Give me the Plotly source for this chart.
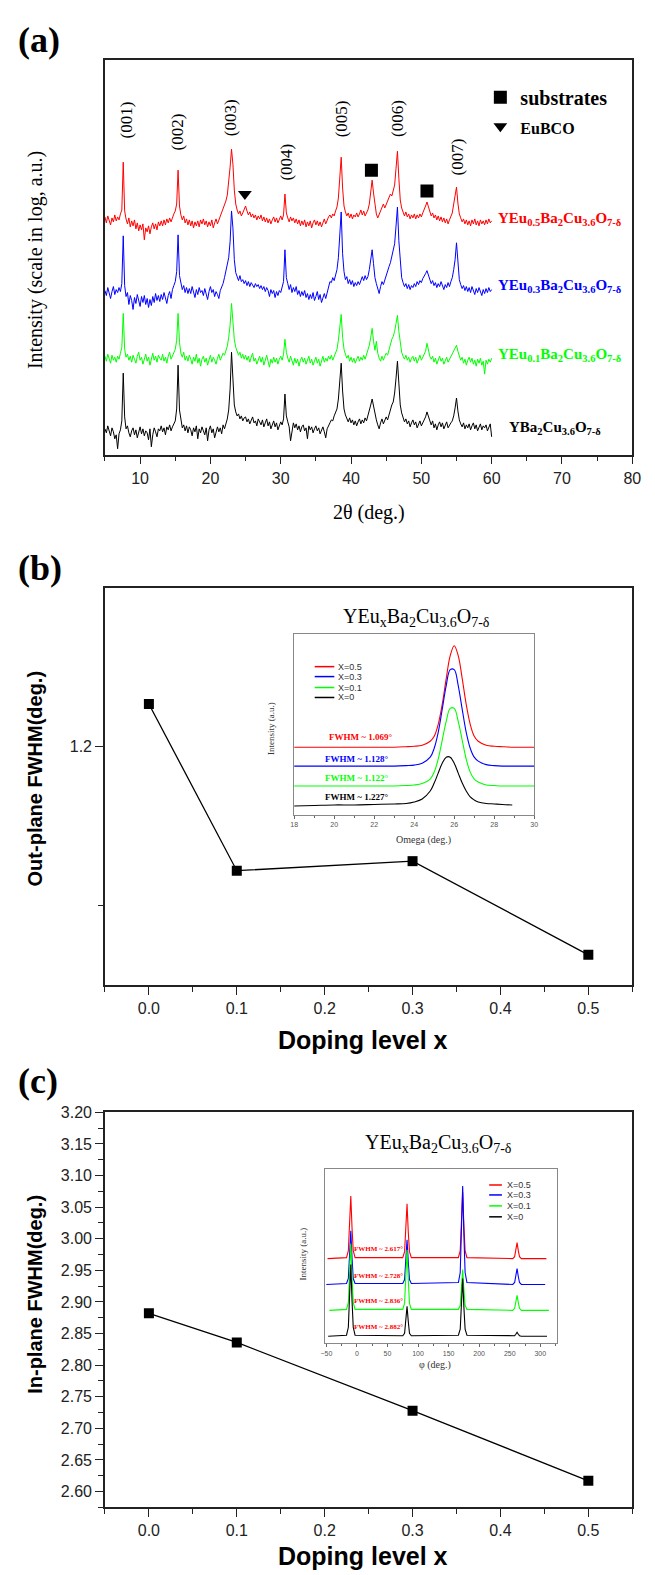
import numpy as np
import plotly.graph_objects as go

W, H = 655, 1575

# ---------------- Panel (a): XRD theta-2theta scans ----------------
TWO_THETA = np.round(np.arange(5.0, 60.0001, 0.2), 1)

XRD_X0 = [
2.6, 2.2, 2.9, 2.4, 1.9, 2.7, 2.3, 1.6, 2.0, 0.6,
2.1, 2.5, 3.4, 8.2, 3.8, 2.6, 2.9, 2.2, 1.8, 2.4,
2.7, 2.0, 2.5, 1.7, 2.3, 2.8, 2.1, 2.6, 1.9, 2.4,
2.2, 1.5, 2.6, 0.8, 2.0, 2.7, 2.3, 1.8, 2.6, 2.4,
2.9, 2.3, 2.7, 2.0, 2.8, 2.5, 3.0, 2.4, 2.8, 3.1,
3.4, 4.6, 9.0, 4.5, 3.3, 2.7, 3.0, 2.4, 2.9, 2.2,
2.8, 2.5, 1.9, 2.7, 2.3, 2.9, 1.6, 2.6, 2.2, 2.8,
2.4, 2.0, 2.7, 1.4, 2.5, 2.9, 2.2, 2.6, 1.7, 2.4,
2.8, 2.3, 2.7, 2.1, 3.0, 2.6, 3.1, 3.6, 4.5, 6.6,
10.3, 7.4, 5.0, 4.3, 3.9, 4.1, 3.6, 3.9, 3.4, 3.7,
3.8, 3.3, 3.6, 3.1, 3.5, 3.8, 3.2, 3.4, 2.9, 3.6,
3.3, 3.0, 3.5, 2.8, 3.2, 3.6, 2.9, 3.3, 2.6, 3.1,
3.4, 2.8, 3.2, 2.5, 3.0, 3.3, 3.0, 3.6, 6.1, 3.9,
3.3, 2.8, 1.4, 2.6, 3.2, 2.7, 3.1, 2.5, 2.9, 2.3,
2.8, 3.0, 2.4, 2.7, 1.6, 2.9, 2.5, 2.8, 2.2, 2.6,
2.9, 2.4, 2.7, 2.1, 2.5, 2.8, 2.3, 1.7, 2.6, 3.0,
3.2, 3.5, 3.4, 3.9, 4.2, 4.6, 5.6, 7.6, 9.2, 6.4,
4.6, 4.0, 3.6, 3.3, 3.7, 3.2, 3.5, 3.0, 3.4, 2.9,
3.3, 3.6, 3.1, 3.5, 3.2, 3.7, 3.4, 3.9, 4.3, 5.0,
5.6, 4.9, 4.0, 3.5, 3.0, 2.6, 3.2, 3.6, 3.1, 3.5,
3.8, 3.5, 4.1, 4.6, 5.0, 5.3, 6.2, 7.7, 9.4, 7.2,
5.0, 4.2, 3.7, 3.3, 3.6, 3.1, 3.4, 2.8, 3.2, 3.5,
3.0, 3.3, 2.7, 3.1, 3.4, 2.9, 3.2, 3.4, 3.8, 4.3,
3.8, 3.3, 3.0, 3.4, 2.7, 3.1, 2.5, 3.0, 3.3, 2.8,
3.2, 2.6, 2.9, 3.3, 2.7, 3.0, 3.2, 3.4, 3.9, 4.7,
5.7, 4.4, 3.5, 3.1, 2.8, 3.2, 2.6, 3.0, 2.7, 3.1,
2.5, 2.9, 3.2, 2.6, 3.0, 2.4, 2.8, 3.1, 2.5, 2.9,
2.7, 3.0, 2.4, 2.8, 3.1, 1.8]

XRD_X01 = [
9.9, 9.4, 10.1, 9.6, 9.2, 10.0, 9.5, 9.8, 9.3, 9.9,
9.6, 10.2, 10.8, 14.2, 10.6, 9.8, 10.1, 9.5, 9.9, 9.3,
10.0, 9.6, 9.2, 9.9, 10.3, 9.5, 9.8, 9.1, 9.7, 10.1,
9.4, 9.8, 9.0, 9.6, 10.2, 9.5, 9.9, 9.3, 10.0, 9.7,
9.5, 10.1, 9.4, 9.8, 9.2, 9.9, 10.3, 9.6, 10.0, 10.4,
10.6, 11.5, 14.2, 11.3, 10.2, 9.8, 10.3, 9.5, 9.9, 9.4,
10.0, 9.6, 9.1, 9.8, 9.4, 10.1, 9.2, 9.7, 8.9, 9.6,
9.9, 9.3, 9.7, 9.0, 9.6, 10.0, 9.3, 9.8, 9.5, 9.1,
9.7, 10.1, 9.5, 9.9, 10.2, 10.0, 10.5, 10.9, 11.8, 13.0,
15.2, 13.4, 11.6, 10.8, 10.4, 10.0, 10.3, 9.7, 10.1, 9.6,
10.0, 9.5, 9.9, 9.3, 9.8, 10.2, 9.4, 9.7, 9.1, 9.6,
9.9, 9.3, 9.8, 9.0, 9.5, 10.0, 9.4, 8.8, 9.6, 9.2,
9.8, 9.3, 9.7, 9.1, 9.6, 9.9, 9.5, 10.1, 11.6, 10.3,
9.7, 9.3, 9.9, 9.4, 9.0, 9.7, 9.2, 9.6, 8.9, 9.5,
9.8, 9.3, 9.7, 9.1, 9.5, 9.9, 9.2, 9.6, 9.0, 9.4,
9.8, 9.2, 9.6, 8.9, 9.5, 9.9, 9.3, 9.7, 9.4, 9.9,
9.6, 10.0, 9.5, 9.9, 10.1, 10.6, 11.5, 12.8, 14.1, 11.8,
10.6, 10.1, 9.7, 10.0, 9.4, 9.8, 9.3, 9.7, 9.2, 9.6,
9.9, 9.4, 9.8, 9.5, 10.0, 9.6, 10.1, 10.4, 11.0, 11.8,
12.7, 11.4, 10.5, 11.4, 10.2, 9.7, 9.4, 9.9, 9.5, 9.9,
10.2, 10.0, 10.6, 11.1, 11.6, 11.9, 12.4, 13.2, 14.0, 12.4,
11.0, 10.3, 9.9, 9.6, 10.0, 9.5, 9.8, 9.3, 9.7, 9.9,
9.4, 9.8, 9.2, 9.6, 10.0, 9.5, 9.8, 10.0, 10.4, 11.2,
10.4, 9.9, 9.6, 9.9, 9.3, 9.7, 9.1, 9.6, 9.9, 9.4,
9.7, 9.1, 9.5, 9.8, 9.3, 9.6, 9.9, 10.1, 10.5, 10.8,
11.0, 10.4, 9.9, 9.5, 9.8, 9.2, 9.6, 9.0, 9.5, 9.8,
9.3, 9.7, 9.1, 9.5, 8.9, 9.6, 9.2, 9.7, 9.0, 9.4,
8.1, 9.5, 9.1, 9.6, 9.3, 9.7]

XRD_X03 = [
16.5, 16.0, 16.8, 16.2, 15.7, 16.4, 16.9, 16.1, 16.6, 16.3,
16.8, 16.4, 17.2, 22.0, 17.0, 15.9, 16.3, 15.1, 16.0, 15.5,
14.6, 15.8, 15.2, 16.1, 15.4, 14.9, 15.9, 15.3, 16.0, 15.1,
15.7, 14.8, 15.6, 15.0, 15.9, 15.3, 16.2, 15.5, 16.0, 15.4,
16.1, 15.6, 16.3, 15.8, 15.2, 16.0, 16.4, 15.7, 16.6, 17.0,
17.4, 18.4, 22.1, 18.0, 17.1, 16.6, 17.0, 16.3, 16.8, 16.2,
16.7, 16.2, 16.9, 16.4, 15.8, 16.6, 16.1, 16.8, 16.3, 16.5,
16.0, 16.7, 16.2, 15.6, 16.4, 16.9, 16.3, 16.6, 15.9, 16.4,
16.1, 15.7, 16.5, 16.8, 17.2, 17.8, 18.4, 19.0, 19.8, 21.4,
24.5, 22.8, 19.6, 18.3, 17.8, 17.5, 18.0, 17.4, 17.6, 17.2,
17.5, 17.0, 17.4, 16.9, 17.3, 17.1, 16.8, 17.2, 16.9, 17.1,
16.7, 17.0, 16.6, 16.9, 16.4, 16.8, 16.5, 15.9, 16.6, 16.2,
16.5, 15.8, 16.4, 16.0, 16.5, 16.3, 16.9, 17.4, 20.6, 17.8,
17.2, 16.6, 17.1, 16.3, 16.8, 16.4, 16.9, 16.1, 16.5, 15.9,
16.4, 16.0, 16.5, 15.8, 16.2, 15.6, 16.1, 15.7, 16.3, 15.5,
15.9, 16.4, 15.6, 16.1, 15.3, 15.8, 16.2, 15.7, 16.3, 16.9,
17.4, 17.3, 17.8, 17.5, 18.0, 18.6, 19.8, 22.0, 24.4, 20.2,
18.4, 17.6, 17.9, 17.2, 17.6, 17.1, 17.5, 16.9, 17.3, 17.0,
17.4, 17.1, 17.6, 17.9, 17.5, 18.0, 17.6, 17.9, 18.6, 19.5,
20.6, 19.2, 17.8, 17.2, 16.6, 16.2, 16.9, 17.4, 17.1, 17.6,
17.9, 18.4, 18.9, 19.3, 19.9, 20.4, 21.2, 23.0, 24.9, 21.5,
19.0, 17.8, 17.3, 16.9, 17.2, 16.7, 17.1, 16.6, 17.0, 16.8,
17.2, 16.9, 17.4, 17.1, 17.5, 17.3, 17.7, 17.9, 18.2, 18.5,
18.0, 17.6, 17.2, 17.5, 17.0, 17.3, 16.8, 17.2, 16.9, 17.4,
17.0, 16.6, 17.1, 16.8, 17.3, 16.9, 17.4, 17.8, 18.6, 19.6,
21.3, 19.0, 17.6, 17.1, 16.7, 17.0, 16.5, 16.9, 16.4, 16.8,
16.3, 16.9, 16.5, 16.1, 16.7, 16.3, 16.8, 16.4, 16.0, 16.6,
16.2, 16.7, 16.3, 16.8, 16.4, 16.6]

XRD_X05 = [
23.9, 23.3, 24.0, 23.6, 23.1, 23.8, 23.4, 24.1, 23.5, 23.9,
23.6, 24.2, 24.6, 29.4, 24.5, 23.7, 23.2, 23.8, 22.9, 23.5,
23.0, 23.6, 22.7, 23.3, 22.5, 23.1, 22.6, 23.2, 21.6, 22.8,
22.4, 23.0, 22.2, 22.9, 23.3, 22.7, 23.2, 22.6, 23.4, 23.0,
23.5, 23.0, 23.6, 23.1, 23.7, 23.3, 23.8, 23.4, 23.9, 24.2,
24.5, 25.2, 28.6, 25.0, 24.1, 23.6, 24.0, 23.3, 23.7, 23.1,
23.6, 23.0, 23.5, 22.8, 23.4, 23.0, 23.5, 22.9, 23.6, 23.2,
23.7, 23.1, 23.5, 22.9, 23.4, 23.0, 23.6, 22.8, 23.3, 23.7,
23.2, 23.6, 23.9, 24.3, 24.8, 25.0, 25.5, 26.1, 27.3, 28.9,
30.7, 29.2, 26.6, 25.2, 24.6, 24.2, 24.5, 24.0, 24.3, 24.6,
25.0, 24.5, 24.1, 24.4, 23.9, 24.2, 23.8, 24.1, 23.6, 24.0,
23.7, 24.1, 23.5, 23.9, 23.4, 23.8, 23.3, 23.7, 23.2, 23.6,
23.9, 23.4, 23.8, 23.3, 23.7, 24.0, 23.6, 24.1, 26.2, 24.3,
23.8, 23.4, 23.9, 23.5, 23.8, 23.3, 23.7, 23.2, 23.6, 23.0,
23.5, 23.1, 23.6, 22.9, 23.4, 23.0, 23.5, 22.8, 23.3, 23.6,
23.1, 23.5, 23.0, 23.4, 22.9, 23.3, 23.7, 23.2, 23.6, 23.9,
24.1, 23.8, 24.2, 24.0, 24.5, 24.9, 25.8, 27.6, 29.9, 26.8,
25.0, 24.4, 24.0, 24.3, 23.8, 24.2, 23.7, 24.1, 23.9, 24.3,
23.9, 24.2, 24.6, 24.1, 24.5, 24.0, 24.3, 24.6, 25.2, 26.4,
27.6, 26.3, 24.9, 24.2, 23.8, 24.2, 24.5, 24.9, 25.2, 24.8,
25.2, 25.5, 25.9, 26.2, 26.0, 26.6, 27.1, 28.8, 30.5, 27.8,
25.6, 24.8, 24.3, 24.0, 24.4, 23.9, 24.2, 23.7, 24.1, 23.8,
24.2, 23.7, 24.1, 23.8, 24.2, 23.9, 24.3, 24.6, 25.0, 25.4,
24.9, 24.4, 24.0, 24.3, 23.8, 24.1, 23.6, 24.0, 23.5, 23.9,
23.4, 23.8, 23.3, 23.7, 23.2, 23.6, 23.9, 24.3, 25.2, 26.0,
26.9, 25.3, 24.2, 23.8, 23.4, 23.7, 23.2, 23.6, 23.1, 23.5,
23.0, 23.6, 23.2, 23.7, 23.1, 23.5, 23.0, 23.6, 23.2, 23.5,
23.1, 23.6, 23.2, 23.7, 23.3, 23.5]

XRD_SERIES = [XRD_X0, XRD_X01, XRD_X03, XRD_X05]
XRD_COLORS = ["#000000", "#00ff00", "#0000ff", "#ff0000"]
XRD_LABELS = ["YBa<sub>2</sub>Cu<sub>3.6</sub>O<sub>7-δ</sub>",
              "YEu<sub>0.1</sub>Ba<sub>2</sub>Cu<sub>3.6</sub>O<sub>7-δ</sub>",
              "YEu<sub>0.3</sub>Ba<sub>2</sub>Cu<sub>3.6</sub>O<sub>7-δ</sub>",
              "YEu<sub>0.5</sub>Ba<sub>2</sub>Cu<sub>3.6</sub>O<sub>7-δ</sub>"]
XRD_LABEL_X = [62.2, 60.6, 60.6, 60.6]
XRD_LABEL_Y = [2.7, 10.0, 17.0, 23.7]

PEAK_NAMES = ["(001)", "(002)", "(003)", "(004)", "(005)", "(006)", "(007)"]
PEAK_LABEL_X = [8.0, 15.25, 22.9, 30.8, 38.7, 46.6, 55.1]
PEAK_LABEL_Y = [33.6, 32.4, 33.9, 29.4, 33.8, 33.8, 29.9]

SUBSTRATE_X = [42.9, 50.8]
SUBSTRATE_Y = [28.6, 26.5]
EUBCO_X = [24.9]
EUBCO_Y = [26.2]

# ---------------- Panel (b): out-of-plane FWHM ----------------
DOPING = [0.0, 0.1, 0.3, 0.5]
OUT_FWHM = [1.227, 1.122, 1.128, 1.069]
IN_FWHM = [2.882, 2.836, 2.728, 2.617]

OMEGA = [18, 19, 20, 21, 22, 23, 23.6, 24.0, 24.4, 24.8, 25.0, 25.2, 25.4, 25.6, 25.8,
         26.0, 26.2, 26.4, 26.6, 26.8, 27.0, 27.2, 27.6, 28.0, 28.4, 29, 30]
OMEGA_X0 = [18, 19, 20, 21, 22, 23, 23.6, 24.0, 24.4, 24.8, 25.0, 25.2, 25.4, 25.6, 25.8,
            26.0, 26.2, 26.4, 26.6, 26.8, 27.0, 27.2, 27.6, 28.0, 28.4, 28.9]
RC_X05 = [6.8, 6.8, 6.8, 6.8, 6.8, 6.8, 6.85, 6.9, 7.0, 7.4, 7.9, 9.1, 11.1, 13.7, 16.0,
          17.0, 16.0, 13.7, 11.1, 9.1, 7.9, 7.4, 7.0, 6.9, 6.85, 6.8, 6.8]
RC_X03 = [4.9, 4.9, 4.9, 4.9, 4.9, 4.9, 4.95, 5.0, 5.2, 5.8, 6.7, 8.3, 10.6, 13.0, 14.6,
          14.6, 13.0, 10.6, 8.3, 6.7, 5.8, 5.4, 5.05, 4.95, 4.9, 4.9, 4.9]
RC_X01 = [2.9, 2.9, 2.9, 2.9, 2.9, 2.9, 2.95, 3.0, 3.15, 3.6, 4.3, 5.6, 7.5, 9.4, 10.7,
          10.7, 9.4, 7.5, 5.6, 4.3, 3.6, 3.3, 3.0, 2.95, 2.9, 2.9, 2.9]
RC_X0 = [0.9, 0.95, 1.0, 1.0, 1.05, 1.1, 1.15, 1.3, 1.6, 2.4, 3.2, 4.2, 5.2, 5.8, 5.8,
         5.2, 4.2, 3.2, 2.4, 1.8, 1.5, 1.3, 1.15, 1.1, 1.05, 1.0]
RC_FWHM_TEXT = ["FWHM ~ 1.069°", "FWHM ~ 1.128°", "FWHM ~ 1.122°", "FWHM ~ 1.227°"]
RC_TEXT_X = [21.3, 21.1, 21.1, 21.1]
RC_TEXT_Y = [7.8, 5.6, 3.7, 1.8]

# ---------------- Panel (c): in-plane phi scans ----------------
PHI_X05 = [-48, -17, -14, -12, -10, -8, -6, -3, 75, 78, 80, 82, 84, 86, 89,
           166, 169, 171, 173, 175, 177, 180, 255, 258, 260, 262, 264, 266, 269, 310]
PHI_X03 = [-50, -17, -14, -12, -10, -8, -6, -3, 75, 78, 80, 82, 84, 86, 89,
           166, 169, 171, 173, 175, 177, 180, 255, 258, 260, 262, 264, 266, 269, 308]
PHI_X01 = [-45, -17, -14, -12, -10, -8, -6, -3, 75, 78, 80, 82, 84, 86, 89,
           166, 169, 171, 173, 175, 177, 180, 255, 258, 260, 262, 264, 266, 269, 314]
PHI_X0 = [-47, -17, -14, -12, -10, -8, -6, -3, 75, 78, 80, 82, 84, 86, 89,
          166, 169, 171, 173, 175, 177, 180, 255, 258, 260, 262, 264, 266, 269, 311]
PS_X05 = [8.5, 8.6, 9.3, 11.6, 14.8, 11.6, 9.3, 8.6, 8.6, 9.2, 11.2, 14.0, 11.2, 9.2, 8.6,
          8.6, 9.3, 11.8, 15.2, 11.8, 9.3, 8.6, 8.5, 8.7, 9.3, 10.1, 9.3, 8.7, 8.5, 8.5]
PS_X03 = [5.9, 6.0, 6.5, 8.6, 11.3, 8.6, 6.5, 6.0, 6.0, 6.4, 8.2, 10.4, 8.2, 6.4, 6.0,
          6.1, 7.1, 10.9, 15.8, 10.9, 7.1, 6.1, 5.9, 6.1, 6.7, 7.5, 6.7, 6.1, 5.9, 5.9]
PS_X01 = [3.3, 3.4, 4.1, 6.7, 10.0, 6.7, 4.1, 3.4, 3.4, 4.0, 6.4, 9.4, 6.4, 4.0, 3.4,
          3.4, 3.8, 5.4, 7.4, 5.4, 3.8, 3.4, 3.3, 3.5, 4.1, 4.8, 4.1, 3.5, 3.3, 3.3]
PS_X0 = [0.7, 0.8, 1.6, 4.3, 7.9, 4.3, 1.6, 0.8, 0.75, 1.0, 2.2, 3.7, 2.2, 1.0, 0.75,
         0.8, 1.4, 3.6, 6.5, 3.6, 1.4, 0.8, 0.7, 0.75, 0.9, 1.1, 0.9, 0.75, 0.7, 0.7]
PS_FWHM_TEXT = ["FWHM ~ 2.617°", "FWHM ~ 2.728°", "FWHM ~ 2.836°", "FWHM ~ 2.882°"]
PS_TEXT_X = [35, 35, 35, 35]
PS_TEXT_Y = [9.5, 6.8, 4.2, 1.6]

INSET_LEGEND = ["X=0.5", "X=0.3", "X=0.1", "X=0"]
INSET_COLORS = ["#ff0000", "#0000ff", "#00ff00", "#000000"]

FORMULA = "YEu<sub>x</sub>Ba<sub>2</sub>Cu<sub>3.6</sub>O<sub>7-δ</sub>"

SERIF = "Liberation Serif"
SANS = "Liberation Sans"


def px(x):
    return x / W


def py(y):
    return 1 - y / H


def paper_text(xpix, ypix, text, font, angle=0, xanchor="center"):
    return dict(x=px(xpix), y=py(ypix), xref="paper", yref="paper", text=text,
                textangle=angle, xanchor=xanchor, yanchor="middle",
                showarrow=False, font=font)


fig = go.Figure()

# ---- panel a traces
for vals, col in zip(XRD_SERIES, XRD_COLORS):
    fig.add_trace(go.Scatter(x=TWO_THETA, y=vals, mode="lines",
                             line=dict(color=col, width=1), showlegend=False,
                             xaxis="x", yaxis="y"))
fig.add_trace(go.Scatter(x=SUBSTRATE_X, y=SUBSTRATE_Y, mode="markers",
                         marker=dict(symbol="square", size=13, color="black"),
                         name="<b>substrates</b>", xaxis="x", yaxis="y"))
fig.add_trace(go.Scatter(x=EUBCO_X, y=EUBCO_Y, mode="markers",
                         marker=dict(symbol="triangle-down", size=12, color="black"),
                         name="<b><span style='font-size:16px'>EuBCO</span></b>",
                         xaxis="x", yaxis="y"))

# ---- panel b main
fig.add_trace(go.Scatter(x=DOPING, y=OUT_FWHM, mode="lines+markers",
                         line=dict(color="black", width=1.3),
                         marker=dict(symbol="square", size=10, color="black"),
                         showlegend=False, xaxis="x2", yaxis="y2"))
# ---- panel c main
fig.add_trace(go.Scatter(x=DOPING, y=IN_FWHM, mode="lines+markers",
                         line=dict(color="black", width=1.3),
                         marker=dict(symbol="square", size=10, color="black"),
                         showlegend=False, xaxis="x3", yaxis="y3"))

# ---- inset b (rocking curves)
for xs, ys, col in [(OMEGA, RC_X05, "#ff0000"), (OMEGA, RC_X03, "#0000ff"),
                    (OMEGA, RC_X01, "#00ff00"), (OMEGA_X0, RC_X0, "#000000")]:
    fig.add_trace(go.Scatter(x=xs, y=ys, mode="lines",
                             line=dict(color=col, width=1.1, shape="spline"),
                             showlegend=False, xaxis="x4", yaxis="y4"))
# ---- inset c (phi scans)
for xs, ys, col in [(PHI_X05, PS_X05, "#ff0000"), (PHI_X03, PS_X03, "#0000ff"),
                    (PHI_X01, PS_X01, "#00ff00"), (PHI_X0, PS_X0, "#000000")]:
    fig.add_trace(go.Scatter(x=xs, y=ys, mode="lines",
                             line=dict(color=col, width=1.1),
                             showlegend=False, xaxis="x5", yaxis="y5"))

ann = []
# panel a labels
for name, x, y in zip(PEAK_NAMES, PEAK_LABEL_X, PEAK_LABEL_Y):
    ann.append(dict(x=x, y=y, xref="x", yref="y", text=name, textangle=-90,
                    xanchor="center", yanchor="middle",
                    showarrow=False, font=dict(family=SERIF, size=17, color="black")))
for lab, x, y, col in zip(XRD_LABELS, XRD_LABEL_X, XRD_LABEL_Y, XRD_COLORS):
    ann.append(dict(x=x, y=y, xref="x", yref="y", text="<b>" + lab + "</b>",
                    xanchor="left", yanchor="middle", showarrow=False,
                    font=dict(family=SERIF, size=15, color=col)))

# panel letters
for letter, ypix in [("(a)", 32), ("(b)", 563), ("(c)", 1078)]:
    ann.append(paper_text(12, ypix, "<b>" + letter + "</b>",
                          dict(family=SERIF, size=36, color="black"), xanchor="left"))

# axis titles
ann.append(paper_text(372, 507, "2θ (deg.)", dict(family=SERIF, size=20, color="black")))
ann.append(paper_text(32, 253, "Intensity (scale in log, a.u.)",
                      dict(family=SERIF, size=20, color="black"), angle=-90))
for ypix in [1037, 1556]:
    ann.append(paper_text(366, ypix, "<b>Doping level x</b>",
                          dict(family=SANS, size=25, color="black")))
ann.append(paper_text(32, 774, "<b>Out-plane FWHM(deg.)</b>",
                      dict(family=SANS, size=20, color="black"), angle=-90))
ann.append(paper_text(32, 1293, "<b>In-plane FWHM(deg.)</b>",
                      dict(family=SANS, size=20, color="black"), angle=-90))

# formula titles
ann.append(paper_text(421, 613, FORMULA, dict(family=SERIF, size=20, color="black")))
ann.append(paper_text(443, 1141, FORMULA, dict(family=SERIF, size=20, color="black")))

# inset b texts
for t, x, y, col in zip(RC_FWHM_TEXT, RC_TEXT_X, RC_TEXT_Y, INSET_COLORS):
    ann.append(dict(x=x, y=y, xref="x4", yref="y4", text="<b>" + t + "</b>",
                    xanchor="center", yanchor="middle",
                    showarrow=False, font=dict(family=SERIF, size=9, color=col)))
ann.append(paper_text(428, 836, "Omega (deg.)", dict(family=SERIF, size=10, color="#333")))
ann.append(paper_text(273, 724, "Intensity (a.u.)",
                      dict(family=SERIF, size=9, color="#333"), angle=-90))
# inset c texts
for t, x, y in zip(PS_FWHM_TEXT, PS_TEXT_X, PS_TEXT_Y):
    ann.append(dict(x=x, y=y, xref="x5", yref="y5", text="<b>" + t + "</b>",
                    xanchor="center", yanchor="middle",
                    showarrow=False, font=dict(family=SERIF, size=7, color="#ff0000")))
ann.append(paper_text(440, 1364, "φ (deg.)", dict(family=SERIF, size=10, color="#333")))
ann.append(paper_text(305, 1252, "Intensity (a.u.)",
                      dict(family=SERIF, size=9, color="#333"), angle=-90))

# manual inset legends
shapes = []
for (x0, x1, xt, rows) in [(317, 337, 339, [662, 672, 683, 693]),
                           (495, 508, 511, [1183, 1193, 1204, 1215])]:
    for lab, col, yr in zip(INSET_LEGEND, INSET_COLORS, rows):
        shapes.append(dict(type="line", xref="paper", yref="paper",
                           x0=px(x0), x1=px(x1), y0=py(yr), y1=py(yr),
                           line=dict(color=col, width=1.5)))
        ann.append(paper_text(xt, yr, lab, dict(family=SANS, size=9, color="#333"),
                              xanchor="left"))

frame = dict(showline=True, linecolor="#222", linewidth=1.5, mirror=True,
             showgrid=False, zeroline=False)
inset_frame = dict(showline=True, linecolor="#888", linewidth=1, mirror=True,
                   showgrid=False, zeroline=False)
XDOM = [px(103), px(641)]
tickfont = dict(family=SANS, size=16, color="#222")

fig.update_layout(
    width=W, height=H, autosize=False,
    margin=dict(l=0, r=0, t=0, b=0),
    paper_bgcolor="white", plot_bgcolor="white",
    showlegend=True,
    legend=dict(x=px(486), y=py(70), xanchor="left", yanchor="top",
                bgcolor="rgba(0,0,0,0)", tracegroupgap=0,
                font=dict(family=SERIF, size=20, color="black")),
    xaxis=dict(domain=XDOM, anchor="y", range=[5, 80], tickvals=list(range(10, 81, 10)),
               ticks="outside", ticklen=8, tickwidth=1.3, tickcolor="#222",
               minor=dict(dtick=5, tick0=0, ticks="outside", ticklen=5, tickcolor="#222"),
               tickfont=tickfont, **frame),
    yaxis=dict(domain=[py(449), py(52)], anchor="x", range=[0, 39.7],
               showticklabels=False, ticks="", **frame),
    xaxis2=dict(domain=XDOM, anchor="y2", range=[-0.05, 0.55],
                tickvals=[0.0, 0.1, 0.2, 0.3, 0.4, 0.5], tickformat=".1f",
                ticks="outside", ticklen=8, tickwidth=1.3, tickcolor="#222",
                minor=dict(dtick=0.05, tick0=0, ticks="outside", ticklen=5, tickcolor="#222"),
                tickfont=tickfont, **frame),
    yaxis2=dict(domain=[py(982), py(583)], anchor="x2", range=[1.05, 1.30],
                tickvals=[1.2], ticktext=["1.2"], ticks="outside", ticklen=8,
                tickwidth=1.3, tickcolor="#222",
                minor=dict(tickvals=[1.1], ticks="outside", ticklen=5, tickcolor="#222"),
                tickfont=tickfont, **frame),
    xaxis3=dict(domain=XDOM, anchor="y3", range=[-0.05, 0.55],
                tickvals=[0.0, 0.1, 0.2, 0.3, 0.4, 0.5], tickformat=".1f",
                ticks="outside", ticklen=8, tickwidth=1.3, tickcolor="#222",
                minor=dict(dtick=0.05, tick0=0, ticks="outside", ticklen=5, tickcolor="#222"),
                tickfont=tickfont, **frame),
    yaxis3=dict(domain=[py(1507), py(1110)], anchor="x3", range=[2.575, 3.20],
                dtick=0.05, tick0=2.6, tickformat=".2f", ticks="outside", ticklen=8,
                tickwidth=1.3, tickcolor="#222",
                minor=dict(dtick=0.025, tick0=2.575, ticks="outside", ticklen=5,
                           tickcolor="#222"),
                tickfont=tickfont, **frame),
    xaxis4=dict(domain=[px(296), px(541)], anchor="y4", range=[18, 30],
                tickvals=[18, 20, 22, 24, 26, 28, 30], ticks="outside", ticklen=3,
                tickcolor="#666",
                minor=dict(dtick=1, tick0=18, ticks="outside", ticklen=2, tickcolor="#666"),
                tickfont=dict(family=SANS, size=7, color="#555"), **inset_frame),
    yaxis4=dict(domain=[py(811), py(629)], anchor="x4", range=[0, 18.2],
                showticklabels=False, ticks="", **inset_frame),
    xaxis5=dict(domain=[px(327), px(564)], anchor="y5", range=[-53, 327],
                tickvals=[-50, 0, 50, 100, 150, 200, 250, 300], ticks="outside", ticklen=3,
                tickcolor="#666",
                minor=dict(dtick=25, tick0=0, ticks="outside", ticklen=2, tickcolor="#666"),
                tickfont=dict(family=SANS, size=7, color="#555"), **inset_frame),
    yaxis5=dict(domain=[py(1342), py(1167)], anchor="x5", range=[0, 17.5],
                showticklabels=False, ticks="", **inset_frame),
    annotations=ann,
    shapes=shapes,
)

fig.write_html("out.html",
               config={"displayModeBar": False},
               post_script="document.body.style.margin='0px';"
                           "document.body.style.overflow='hidden';")
